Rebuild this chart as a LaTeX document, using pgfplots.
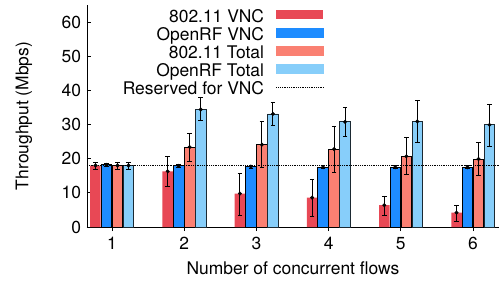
\documentclass[border=0pt]{standalone}
\usepackage{pgfplots}
\pgfplotsset{compat=1.18}
\usepackage{pgfplotstable}
\usepackage{fontspec}
\setmainfont{TeX Gyre Heros}
\definecolor{cred}{RGB}{232,72,85}
\definecolor{cblue}{RGB}{30,140,255}
\definecolor{csalmon}{RGB}{250,128,114}
\definecolor{clight}{RGB}{135,206,250}
\pgfplotstableread{
x y ep em
1 18.0 1.0 1.0
2 16.3 4.4 4.5
3 9.8 5.8 6.3
4 8.6 5.2 5.4
5 6.4 2.7 2.9
6 4.2 2.2 2.5
}\redvnc
\pgfplotstableread{
x y ep em
1 18.2 0.4 0.4
2 17.9 0.4 0.4
3 17.7 0.4 0.4
4 17.5 0.4 0.4
5 17.5 0.4 0.4
6 17.5 0.4 0.4
}\bluevnc
\pgfplotstableread{
x y ep em
1 18.0 1.0 1.0
2 23.4 3.9 4.1
3 24.1 6.8 6.7
4 22.8 6.8 6.8
5 20.7 5.5 5.4
6 19.9 4.8 4.9
}\redtot
\pgfplotstableread{
x y ep em
1 18.0 1.0 1.0
2 34.4 3.6 3.2
3 33.1 3.4 3.4
4 30.8 4.1 4.4
5 30.9 6.1 6.2
6 29.9 6.1 6.4
}\bluetot
\pgfplotstableread{
x y
0.654 18
6.36 18
}\reserved
\begin{document}
\fontsize{17.5}{19}\selectfont
\begin{tikzpicture}
\begin{axis}[name=ax,
  scale only axis, width=412bp, height=222bp,
  xmin=0.654, xmax=6.36, ymin=0, ymax=65,
  axis lines=left, axis line style={-, line width=0.8bp},
  ytick={0,10,...,60}, xtick={1,...,6},
  tick align=inside, major tick length=4bp,
  tick style={black, line width=0.8bp},
  ybar, bar width=10.5bp,
  /pgf/number format/assume math mode=true,
  ticklabel style={font=\fontsize{17.5}{19}\selectfont},
  label style={font=\fontsize{17.5}{19}\selectfont},
  xlabel={Number of concurrent flows},
  ylabel={Throughput (Mbps)},
  every axis y label/.style={at={([xshift=-63bp]rel axis cs:0,0.5)}, anchor=center, rotate=90},
  legend cell align=right, legend plot pos=right,
  legend style={at={(rel axis cs:0.5825,0.99)}, anchor=north east, draw=none, fill=none,
    row sep=0pt, column sep=12bp,
    nodes={inner sep=0pt, text height=13bp, text depth=5bp,font=\fontsize{17.5}{19}\selectfont}},
  error bars/error bar style={black, line width=0.8bp},
  error bars/error mark options={rotate=90, black, mark size=2.2bp, line width=0.8bp},
]
\addplot[fill=cred, draw=none, bar shift=-16.5bp,
  legend image code/.code={\fill[cred] (0bp,-1bp) rectangle (47bp,8bp);},
  error bars/.cd, y dir=both, y explicit]
  table[x=x, y=y, y error plus=ep, y error minus=em]{\redvnc};
\addlegendentry{802.11 VNC}
\addplot[fill=cblue, draw=black, line width=0.8bp, bar shift=-5.5bp,
  legend image code/.code={\fill[cblue] (0bp,-1bp) rectangle (47bp,8bp);},
  error bars/.cd, y dir=both, y explicit]
  table[x=x, y=y, y error plus=ep, y error minus=em]{\bluevnc};
\addlegendentry{OpenRF VNC}
\addplot[fill=csalmon, draw=black, line width=0.8bp, bar shift=5.5bp,
  legend image code/.code={\fill[csalmon] (0bp,-1bp) rectangle (47bp,8bp);},
  error bars/.cd, y dir=both, y explicit]
  table[x=x, y=y, y error plus=ep, y error minus=em]{\redtot};
\addlegendentry{802.11 Total}
\addplot[fill=clight, draw=black!80!clight, line width=0.8bp, bar shift=16.5bp,
  legend image code/.code={\fill[clight] (0bp,-1bp) rectangle (47bp,8bp);},
  error bars/.cd, y dir=both, y explicit]
  table[x=x, y=y, y error plus=ep, y error minus=em]{\bluetot};
\addlegendentry{OpenRF Total}
\addplot[sharp plot, black, densely dotted, line width=0.8bp, mark=none,
  legend image code/.code={\draw[black, densely dotted, line width=0.8bp] (0bp,3.5bp) -- (47bp,3.5bp);}]
  table[x=x, y=y]{\reserved};
\addlegendentry{Reserved for VNC}
% centre points of the error bars
\addplot[only marks, forget plot, mark=*, mark size=1.8bp, black] table[x expr=\thisrow{x}-0.2285, y=y]{\redvnc};
\addplot[only marks, forget plot, mark=*, mark size=1.8bp, black] table[x expr=\thisrow{x}-0.0762, y=y]{\bluevnc};
\addplot[only marks, forget plot, mark=*, mark size=1.8bp, black] table[x expr=\thisrow{x}+0.0762, y=y]{\redtot};
\addplot[only marks, forget plot, mark=*, mark size=1.8bp, black] table[x expr=\thisrow{x}+0.2285, y=y]{\bluetot};
\end{axis}
\pgfresetboundingbox
\path ([xshift=-87bp,yshift=-59bp]ax.south west) rectangle ([xshift=1bp,yshift=5bp]ax.north east);
\end{tikzpicture}
\end{document}
